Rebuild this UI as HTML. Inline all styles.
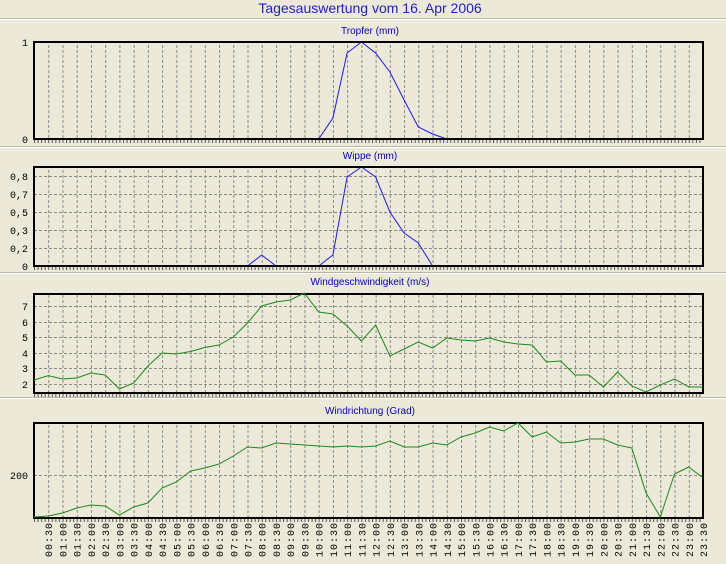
<!DOCTYPE html>
<html><head><meta charset="utf-8"><style>
html,body{margin:0;padding:0;background:#ECE9D8;}
svg{display:block;font-family:"Liberation Sans",sans-serif;}
.t{fill:#0000CC;font-size:10px;text-anchor:middle;}
.ax{font-family:"Liberation Mono",monospace;font-size:10px;fill:#000;}
.lb{font-family:"Liberation Mono",monospace;font-size:10px;fill:#000;letter-spacing:1px;text-anchor:end;}
</style></head><body>
<svg width="726" height="564" viewBox="0 0 726 564" xmlns="http://www.w3.org/2000/svg">
<defs>
<pattern id="vg" x="34" y="0" width="14.234" height="10" patternUnits="userSpaceOnUse">
<line x1="0.5" y1="0" x2="0.5" y2="10" stroke="#8a8a8a" stroke-width="1" stroke-dasharray="3,2"/>
</pattern>
<pattern id="mt" x="34" y="0" width="3.5585" height="10" patternUnits="userSpaceOnUse">
<line x1="0.5" y1="0" x2="0.5" y2="10" stroke="#555" stroke-width="1"/>
</pattern>
</defs>
<rect width="726" height="564" fill="#ECE9D8"/>
<text x="370" y="13" style="fill:#2020D0;font-size:14px;text-anchor:middle">Tagesauswertung vom 16. Apr 2006</text>
<g stroke="#b8b5a8" stroke-width="1">
<line x1="0" y1="18.5" x2="726" y2="18.5"/>
<line x1="0" y1="146.5" x2="726" y2="146.5"/>
<line x1="0" y1="272.5" x2="726" y2="272.5"/>
<line x1="0" y1="397.5" x2="726" y2="397.5"/>
</g>
<g stroke="#fff" stroke-width="1">
<line x1="0" y1="19.5" x2="726" y2="19.5"/>
<line x1="0" y1="147.5" x2="726" y2="147.5"/>
<line x1="0" y1="273.5" x2="726" y2="273.5"/>
<line x1="0" y1="398.5" x2="726" y2="398.5"/>
</g>

<!-- Panel 1 -->
<text class="t" x="370" y="34">Tropfer (mm)</text>
<rect x="48" y="42" width="655" height="97" fill="url(#vg)"/>
<rect x="34" y="139" width="669" height="4" fill="url(#mt)"/>
<polyline fill="none" stroke="#1a1aff" stroke-width="1" points="318.7,139 332.9,118 347.1,53 361.4,42 375.6,53 389.9,72 404.1,100 418.3,127 432.6,134 446.8,139"/>
<rect x="34" y="42" width="669" height="97" fill="none" stroke="#000" stroke-width="2"/>
<text class="ax" x="22" y="46">1</text>
<text class="ax" x="22" y="143">0</text>

<!-- Panel 2 -->
<text class="t" x="370" y="159">Wippe (mm)</text>
<rect x="48" y="167" width="655" height="99" fill="url(#vg)"/>
<g stroke="#8a8a8a" stroke-dasharray="3,2"><line x1="34" y1="176.5" x2="703" y2="176.5"/><line x1="34" y1="194.5" x2="703" y2="194.5"/><line x1="34" y1="212.5" x2="703" y2="212.5"/><line x1="34" y1="230.5" x2="703" y2="230.5"/><line x1="34" y1="248.5" x2="703" y2="248.5"/></g>
<rect x="34" y="266" width="669" height="4" fill="url(#mt)"/>
<polyline fill="none" stroke="#1a1aff" stroke-width="1" points="247.5,266 261.7,255 276,266"/>
<polyline fill="none" stroke="#1a1aff" stroke-width="1" points="318.7,266 332.9,255 347.1,177 361.4,167 375.6,177 389.9,212 404.1,233 418.3,243 432.6,266"/>
<rect x="34" y="167" width="669" height="99" fill="none" stroke="#000" stroke-width="2"/>
<text class="ax" x="10" y="180">0,8</text>
<text class="ax" x="10" y="198">0,7</text>
<text class="ax" x="10" y="216">0,5</text>
<text class="ax" x="10" y="234">0,3</text>
<text class="ax" x="10" y="252">0,2</text>
<text class="ax" x="22" y="270">0</text>

<!-- Panel 3 -->
<text class="t" x="370" y="285">Windgeschwindigkeit (m/s)</text>
<rect x="48" y="294" width="655" height="99" fill="url(#vg)"/>
<g stroke="#8a8a8a" stroke-dasharray="3,2"><line x1="34" y1="306.5" x2="703" y2="306.5"/><line x1="34" y1="322.5" x2="703" y2="322.5"/><line x1="34" y1="337.5" x2="703" y2="337.5"/><line x1="34" y1="353.5" x2="703" y2="353.5"/><line x1="34" y1="368.5" x2="703" y2="368.5"/><line x1="34" y1="384.5" x2="703" y2="384.5"/></g>
<rect x="34" y="393" width="669" height="4" fill="url(#mt)"/>
<rect x="34" y="294" width="669" height="99" fill="none" stroke="#000" stroke-width="2"/>
<text class="ax" x="22" y="310">7</text>
<text class="ax" x="22" y="326">6</text>
<text class="ax" x="22" y="341">5</text>
<text class="ax" x="22" y="357">4</text>
<text class="ax" x="22" y="372">3</text>
<text class="ax" x="22" y="388">2</text>
<polyline fill="none" stroke="#1a8a1a" stroke-width="1" points="34,380 48.2,375.7 62.5,379 76.7,378 90.9,373 105.2,375 119.4,389 133.6,383 147.9,366 162.1,353 176.3,354 190.6,351.5 204.8,347.5 219,345 233.3,337 247.5,323 261.7,306 276,302 290.2,300 304.4,293 318.7,312 332.9,314 347.1,326 361.4,341 375.6,325 389.9,356 404.1,349 418.3,342 432.6,348 446.8,338 461,340 475.3,341 489.5,338 503.7,342 518,344 532.2,345 546.4,362 560.7,361 574.9,375 589.1,375 603.4,387 617.6,372 631.8,386 646.1,392 660.3,385 674.5,379 688.8,387 703,387"/>

<!-- Panel 4 -->
<text class="t" x="370" y="414">Windrichtung (Grad)</text>
<rect x="48" y="423" width="655" height="95" fill="url(#vg)"/>
<line x1="34" y1="475.5" x2="703" y2="475.5" stroke="#8a8a8a" stroke-dasharray="3,2"/>
<rect x="34" y="518" width="669" height="4" fill="url(#mt)"/>
<rect x="34" y="423" width="669" height="95" fill="none" stroke="#000" stroke-width="2"/>
<text class="ax" x="10" y="479">200</text>
<polyline fill="none" stroke="#1a8a1a" stroke-width="1" points="34,517 48.2,516 62.5,513 76.7,508 90.9,505 105.2,506 119.4,515 133.6,507 147.9,503 162.1,488 176.3,482 190.6,471 204.8,468 219,464 233.3,456 247.5,447 261.7,448 276,443 290.2,444 304.4,445 318.7,446 332.9,447 347.1,446 361.4,447 375.6,446 389.9,441 404.1,447 418.3,447 432.6,443 446.8,445 461,437 475.3,433 489.5,427 503.7,431 518,423 532.2,437 546.4,432 560.7,443 574.9,442 589.1,439 603.4,439 617.6,445 631.8,448 646.1,493 660.3,517 674.5,474 688.8,467 703,478"/>

<!-- X labels -->
<g class="lb">
<text transform="translate(52,522) rotate(-90)">00:30</text>
<text transform="translate(66.5,522) rotate(-90)">01:00</text>
<text transform="translate(80.7,522) rotate(-90)">01:30</text>
<text transform="translate(94.9,522) rotate(-90)">02:00</text>
<text transform="translate(109.2,522) rotate(-90)">02:30</text>
<text transform="translate(123.4,522) rotate(-90)">03:00</text>
<text transform="translate(137.6,522) rotate(-90)">03:30</text>
<text transform="translate(151.9,522) rotate(-90)">04:00</text>
<text transform="translate(166.1,522) rotate(-90)">04:30</text>
<text transform="translate(180.3,522) rotate(-90)">05:00</text>
<text transform="translate(194.6,522) rotate(-90)">05:30</text>
<text transform="translate(208.8,522) rotate(-90)">06:00</text>
<text transform="translate(223,522) rotate(-90)">06:30</text>
<text transform="translate(237.3,522) rotate(-90)">07:00</text>
<text transform="translate(251.5,522) rotate(-90)">07:30</text>
<text transform="translate(265.7,522) rotate(-90)">08:00</text>
<text transform="translate(280,522) rotate(-90)">08:30</text>
<text transform="translate(294.2,522) rotate(-90)">09:00</text>
<text transform="translate(308.4,522) rotate(-90)">09:30</text>
<text transform="translate(322.7,522) rotate(-90)">10:00</text>
<text transform="translate(336.9,522) rotate(-90)">10:30</text>
<text transform="translate(351.1,522) rotate(-90)">11:00</text>
<text transform="translate(365.4,522) rotate(-90)">11:30</text>
<text transform="translate(379.6,522) rotate(-90)">12:00</text>
<text transform="translate(393.9,522) rotate(-90)">12:30</text>
<text transform="translate(408.1,522) rotate(-90)">13:00</text>
<text transform="translate(422.3,522) rotate(-90)">13:30</text>
<text transform="translate(436.6,522) rotate(-90)">14:00</text>
<text transform="translate(450.8,522) rotate(-90)">14:30</text>
<text transform="translate(465,522) rotate(-90)">15:00</text>
<text transform="translate(479.3,522) rotate(-90)">15:30</text>
<text transform="translate(493.5,522) rotate(-90)">16:00</text>
<text transform="translate(507.7,522) rotate(-90)">16:30</text>
<text transform="translate(522,522) rotate(-90)">17:00</text>
<text transform="translate(536.2,522) rotate(-90)">17:30</text>
<text transform="translate(550.4,522) rotate(-90)">18:00</text>
<text transform="translate(564.7,522) rotate(-90)">18:30</text>
<text transform="translate(578.9,522) rotate(-90)">19:00</text>
<text transform="translate(593.1,522) rotate(-90)">19:30</text>
<text transform="translate(607.4,522) rotate(-90)">20:00</text>
<text transform="translate(621.6,522) rotate(-90)">20:30</text>
<text transform="translate(635.8,522) rotate(-90)">21:00</text>
<text transform="translate(650.1,522) rotate(-90)">21:30</text>
<text transform="translate(664.3,522) rotate(-90)">22:00</text>
<text transform="translate(678.5,522) rotate(-90)">22:30</text>
<text transform="translate(692.8,522) rotate(-90)">23:00</text>
<text transform="translate(707,522) rotate(-90)">23:30</text>
</g>
</svg>
</body></html>
